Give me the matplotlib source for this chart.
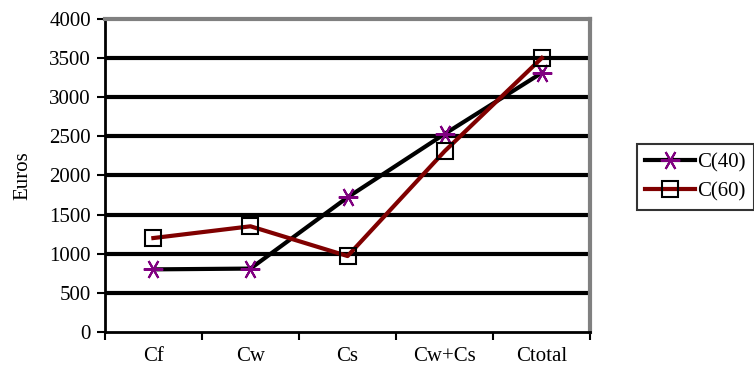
import matplotlib.pyplot as plt
import numpy as np

categories = ['Cf', 'Cw', 'Cs', 'Cw+Cs', 'Ctotal']
c40 = [800, 810, 1720, 2530, 3310]
c60 = [1200, 1350, 970, 2310, 3500]
yticks = [0, 500, 1000, 1500, 2000, 2500, 3000, 3500, 4000]

plt.rcParams['font.family'] = ['Liberation Serif', 'DejaVu Serif']
fs = 15

fig = plt.figure(figsize=(7.54, 3.76), dpi=100)
ax = fig.add_axes([0.139, 0.117, 0.644, 0.833])

x = np.arange(len(categories))
for yv in yticks[1:-1]:
    ax.axhline(yv, color='black', lw=3, zorder=1)

ax.plot(x, c40, color='black', lw=3, marker=(6, 2, 90), markersize=14,
        markeredgecolor='#800080', markeredgewidth=1.5, label='C(40)', zorder=3)
ax.plot(x, c60, color='#800000', lw=3, marker='s', markersize=12,
        markerfacecolor='none', markeredgecolor='black', markeredgewidth=1.5,
        label='C(60)', zorder=3)

ax.set_xlim(-0.5, len(categories) - 0.5)
ax.set_ylim(0, 4000)
ax.set_yticks(yticks)
ax.set_xticks(np.arange(len(categories) + 1) - 0.5)
ax.set_xticklabels([])
ax.set_xticks(x, minor=True)
ax.set_xticklabels(categories, minor=True)
ax.tick_params(axis='x', which='minor', length=0, pad=11, labelsize=fs)
ax.tick_params(axis='x', which='major', length=6, width=1.5, direction='out')
ax.tick_params(axis='y', length=6, width=1.5, direction='out', labelsize=fs, pad=4)

for s in ['left', 'bottom']:
    ax.spines[s].set_linewidth(2)
    ax.spines[s].set_color('black')
for s in ['top', 'right']:
    ax.spines[s].set_linewidth(3)
    ax.spines[s].set_color('#808080')

ax.set_ylabel('Euros', fontsize=fs, labelpad=12)

leg = ax.legend(loc='center left', bbox_to_anchor=(1.095, 0.495), fontsize=fs,
                frameon=True, fancybox=False, edgecolor='black',
                handlelength=2.4, borderpad=0.4, labelspacing=0.45, handletextpad=0.1,
                borderaxespad=0)
leg.get_frame().set_linewidth(1.5)

fig.savefig('out.png', dpi=100)
